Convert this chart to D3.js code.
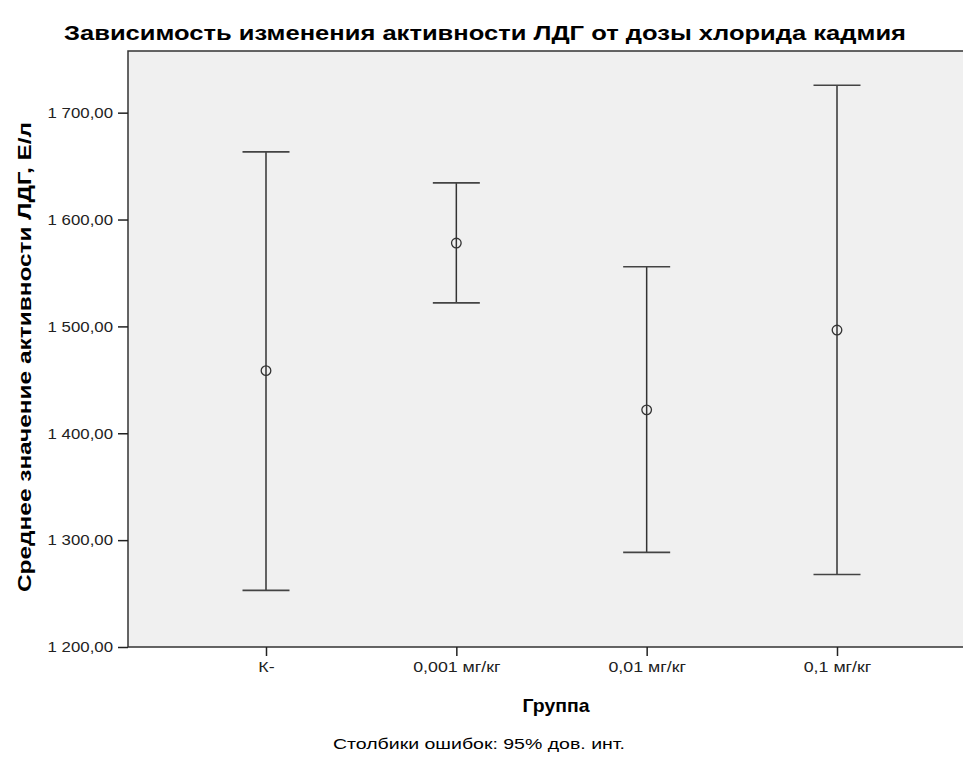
<!DOCTYPE html>
<html lang="ru">
<head>
<meta charset="utf-8">
<style>
  html, body { margin: 0; padding: 0; background: #fff; }
  svg { display: block; font-family: "Liberation Sans", Arial, sans-serif; }
  .axis path, .axis line { stroke: #222; }
  .axis text { fill: #222; }
</style>
<script src="https://cdn.jsdelivr.net/npm/d3@7"></script>
</head>
<body>
<div id="chart"></div>
<script>
// groups and 95% CI
var groups = ["К-", "0,001 мг/кг", "0,01 мг/кг", "0,1 мг/кг"];
var means = [1458.6, 1578, 1421.9, 1496.6];
var lower = [1253, 1522, 1288.5, 1267.9];
var upper = [1663.3, 1634.3, 1555.8, 1725.6];
var yTicks = [1200, 1300, 1400, 1500, 1600, 1700];

var width = 963, height = 758,
    margin = {top: 51, right: -12, bottom: 111, left: 128};

var svg = d3.select("#chart").append("svg")
    .attr("width", width)
    .attr("height", height);

// the original font is wider than Liberation Sans, stretch text sideways
function stretch(sel, k) {
    sel.each(function() {
        var w = this.getComputedTextLength();
        d3.select(this).attr("textLength", w * k).attr("lengthAdjust", "spacingAndGlyphs");
    });
}

var x = d3.scalePoint()
    .domain(groups)
    .range([margin.left + 138, width - margin.right - 138]);

var y = d3.scaleLinear()
    .domain([1200, 1757.7])
    .range([height - margin.bottom, margin.top]);

// plot area
svg.append("rect")
    .attr("x", margin.left)
    .attr("y", margin.top)
    .attr("width", width - margin.right - margin.left)
    .attr("height", height - margin.bottom - margin.top)
    .attr("fill", "#f0f0f0")
    .attr("stroke", "#333")
    .attr("stroke-width", 1.5);

var fmt = function(d) { return d3.format(",.2f")(d).replace(",", " ").replace(".", ","); };

svg.append("g")
    .attr("class", "axis")
    .attr("transform", "translate(" + margin.left + ",0)")
    .call(d3.axisLeft(y).tickValues(yTicks).tickFormat(fmt).tickSize(10).tickPadding(5))
    .call(function(g) { g.select(".domain").remove(); })
    .call(function(g) { g.selectAll("line").attr("stroke-width", 1.5); })
    .selectAll("text").attr("font-size", 15).call(stretch, 1.12);

svg.append("g")
    .attr("class", "axis")
    .attr("transform", "translate(0," + (height - margin.bottom) + ")")
    .call(d3.axisBottom(x).tickSize(9).tickPadding(6))
    .call(function(g) { g.select(".domain").remove(); })
    .call(function(g) { g.selectAll("line").attr("stroke-width", 1.5); })
    .selectAll("text").attr("font-size", 14).call(stretch, 1.27);

// error bars
var data = groups.map(function(g, i) {
    return {g: g, m: means[i], lo: lower[i], hi: upper[i]};
});

var bars = svg.append("g").selectAll("g").data(data).join("g");

bars.append("line")
    .attr("x1", function(d) { return x(d.g); })
    .attr("x2", function(d) { return x(d.g); })
    .attr("y1", function(d) { return y(d.lo); })
    .attr("y2", function(d) { return y(d.hi); })
    .attr("stroke", "#333").attr("stroke-width", 1.5);

["lo", "hi"].forEach(function(k) {
    bars.append("line")
        .attr("x1", function(d) { return x(d.g) - 23.5; })
        .attr("x2", function(d) { return x(d.g) + 23.5; })
        .attr("y1", function(d) { return y(d[k]); })
        .attr("y2", function(d) { return y(d[k]); })
        .attr("stroke", "#444").attr("stroke-width", 1.6);
});

bars.append("circle")
    .attr("cx", function(d) { return x(d.g); })
    .attr("cy", function(d) { return y(d.m); })
    .attr("r", 4.8)
    .attr("fill", "none")
    .attr("stroke", "#333")
    .attr("stroke-width", 1.3);

// titles
svg.append("text")
    .attr("x", 485).attr("y", 40)
    .attr("text-anchor", "middle")
    .attr("font-size", 21).attr("font-weight", "bold")
    .attr("textLength", 842).attr("lengthAdjust", "spacingAndGlyphs")
    .text("Зависимость изменения активности ЛДГ от дозы хлорида кадмия");

svg.append("text")
    .attr("transform", "translate(31,357) rotate(-90)")
    .attr("text-anchor", "middle")
    .attr("font-size", 19).attr("font-weight", "bold")
    .attr("textLength", 470).attr("lengthAdjust", "spacingAndGlyphs")
    .text("Среднее значение активности ЛДГ, Е/л");

svg.append("text")
    .attr("x", 556).attr("y", 712)
    .attr("text-anchor", "middle")
    .attr("font-size", 19).attr("font-weight", "bold")
    .attr("textLength", 67).attr("lengthAdjust", "spacingAndGlyphs")
    .text("Группа");

svg.append("text")
    .attr("x", 479).attr("y", 749)
    .attr("text-anchor", "middle")
    .attr("font-size", 15)
    .attr("textLength", 292).attr("lengthAdjust", "spacingAndGlyphs")
    .text("Столбики ошибок: 95% дов. инт.");
</script>
</body>
</html>
